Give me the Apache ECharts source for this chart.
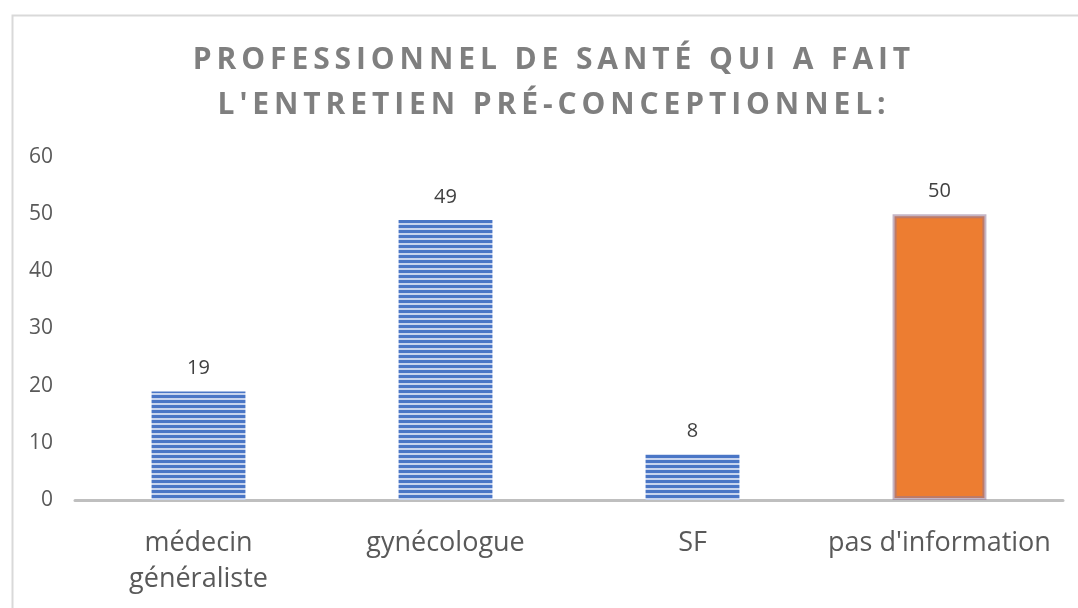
<!DOCTYPE html>
<html><head><meta charset="utf-8">
<script src="https://cdn.jsdelivr.net/npm/echarts@6/dist/echarts.min.js"></script>
<style>html,body{margin:0;padding:0;background:#fff}#c{width:1078px;height:608px}</style>
</head><body><div id="c"></div>
<script>
const categories = ['médecin\ngénéraliste', 'gynécologue', 'SF', "pas d'information"];
const values = [19, 49, 8, 50];
const yTicks = [0, 10, 20, 30, 40, 50, 60];
const titleLines = ['PROFESSIONNEL DE SANTÉ QUI A FAIT', "L'ENTRETIEN PRÉ-CONCEPTIONNEL:"];

// letter spacing for the title (canvas letterSpacing)
const origFill = CanvasRenderingContext2D.prototype.fillText;
CanvasRenderingContext2D.prototype.fillText = function (t, x, y, m) {
  if ('letterSpacing' in this) {
    this.letterSpacing = (/bold/.test(this.font) && /30px/.test(this.font)) ? '4.9px' : '0px';
  }
  return m === undefined ? origFill.call(this, t, x, y) : origFill.call(this, t, x, y, m);
};

// striped pattern for blue bars
const pc = document.createElement('canvas');
pc.width = 4; pc.height = 5;
const px = pc.getContext('2d');
px.fillStyle = '#c7d4ee'; px.fillRect(0, 0, 4, 5);
px.fillStyle = '#4a76c6'; px.fillRect(0, 0, 4, 3);

const FONT = 'Open Sans';
const chart = echarts.init(document.getElementById('c'), null, {renderer: 'canvas'});
chart.setOption({
  animation: false,
  graphic: [{
    type: 'rect', left: 10, top: 13, z: -10,
    shape: {width: 1067, height: 610},
    style: {fill: 'none', stroke: '#d9d9d9', lineWidth: 2}
  }],
  title: {
    text: titleLines.join('\n'),
    left: 549, top: 33, textAlign: 'center',
    textStyle: {fontFamily: FONT, fontWeight: 'bold', fontSize: 30, color: '#7f7f7f', lineHeight: 45}
  },
  grid: {left: 75, right: 15, top: 157, bottom: 108, containLabel: false},
  xAxis: {
    type: 'category', data: categories,
    axisLine: {lineStyle: {color: '#bfbfbf', width: 3}},
    axisTick: {show: false},
    axisLabel: {interval: 0, hideOverlap: false, fontFamily: FONT, fontSize: 27, color: '#595959', margin: 25, lineHeight: 36}
  },
  yAxis: {
    type: 'value', min: yTicks[0], max: yTicks[yTicks.length - 1], interval: 10,
    axisLine: {show: false}, axisTick: {show: false}, splitLine: {show: false},
    axisLabel: {fontFamily: FONT, fontSize: 21, color: '#595959', margin: 22}
  },
  series: [{
    type: 'bar', barWidth: '38%',
    data: values.map((v, i) => i === 3 ? {
      value: v,
      itemStyle: {color: '#ED7D31', borderColor: 'rgba(150,120,150,0.55)', borderWidth: 4}
    } : {value: v, itemStyle: {color: {image: pc, repeat: 'repeat'}}}),
    label: {show: true, position: 'top', distance: 13, fontFamily: FONT, fontSize: 20, color: '#404040'}
  }]
});
</script></body></html>
